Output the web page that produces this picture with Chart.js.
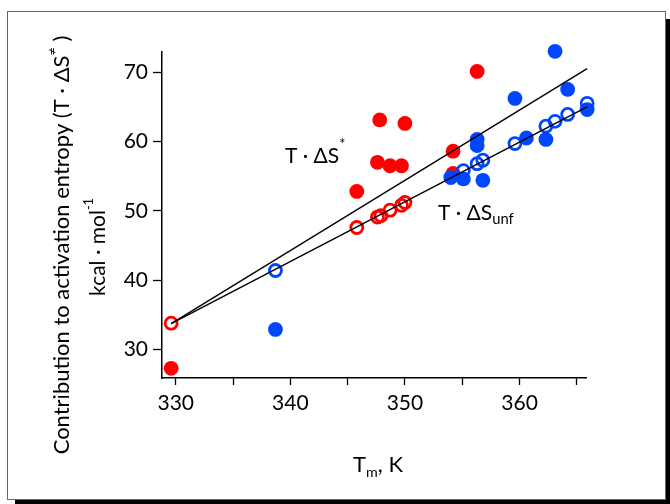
<!DOCTYPE html>
<html>
<head>
<meta charset="utf-8">
<script src="https://cdn.jsdelivr.net/npm/chart.js@4"></script>
<style>
  html, body { margin: 0; padding: 0; background: #fff; width: 670px; height: 504px; overflow: hidden; }
  #frame { position: absolute; left: 7px; top: 11px; width: 657px; height: 487px;
           border: 1px solid #666; box-shadow: 8px 8px 0 #000; background: #fff; }
  #chart { position: absolute; left: 0; top: 0; }
</style>
</head>
<body>
<div id="frame"></div>
<canvas id="chart" width="670" height="504"></canvas>
<script>
// Melting temperature (K) and T·ΔS contributions (kcal·mol⁻¹)
const redActTm   = [329.6, 345.8, 347.6, 347.8, 348.7, 349.7, 350.0, 354.2, 354.2, 356.3];
const redActTS   = [27.3, 52.8, 57.0, 63.1, 56.5, 56.5, 62.6, 58.6, 55.4, 70.1];
const redUnfTm   = [329.6, 345.8, 347.6, 347.9, 348.7, 349.7, 350.0];
const redUnfTS   = [33.8, 47.6, 49.1, 49.3, 50.1, 50.8, 51.2];
const blueActTm  = [338.7, 354.0, 355.1, 356.3, 356.3, 356.8, 359.6, 360.6, 362.3, 363.1, 364.2, 365.9];
const blueActTS  = [32.9, 54.8, 54.6, 60.3, 59.4, 54.4, 66.2, 60.5, 60.3, 73.0, 67.5, 64.6];
const blueUnfTm  = [338.7, 355.1, 356.3, 356.8, 359.6, 362.3, 363.1, 364.2, 365.9];
const blueUnfTS  = [41.4, 55.8, 56.8, 57.3, 59.7, 62.2, 62.9, 63.9, 65.5];

// Linear fits
const fitTm      = [329.6, 365.9];
const fitAct     = [33.75, 70.5];
const fitUnf     = [33.75, 65.0];

const xTicks = [330, 335, 340, 345, 350, 355, 360, 365];
const yTicks = [30, 40, 50, 60, 70];

const RED = '#ff0000';
const BLUE = '#0046ff';
const FONT = 'Lato, "Open Sans", sans-serif';

const pts = (xs, ys) => xs.map((x, i) => ({ x: x, y: ys[i] }));

function filled(data, color, order) {
  return { data, order, clip: false, showLine: false, pointRadius: 7.4, pointHoverRadius: 7.4,
           pointBackgroundColor: color, pointBorderWidth: 0, pointBorderColor: color };
}
function ring(data, color, order) {
  return { data, order, clip: false, showLine: false, pointRadius: 6, pointHoverRadius: 6,
           pointBackgroundColor: 'rgba(0,0,0,0)', pointBorderWidth: 2.8, pointBorderColor: color };
}
function fit(ys) {
  return { data: pts(fitTm, ys), order: 0, clip: false, showLine: true, borderColor: '#000', borderWidth: 1.4,
           pointRadius: 0, fill: false };
}

// draws a run of text pieces (normal / sup / sub) centered on (0,0) of the current transform
function drawRich(ctx, parts, baseSize) {
  let total = 0;
  parts.forEach(p => {
    const s = baseSize * (p.scale || 1);
    ctx.font = s + 'px ' + FONT;
    p._w = ctx.measureText(p.t).width; p._s = s;
    total += p._w;
  });
  let x = -total / 2;
  parts.forEach(p => {
    ctx.font = p._s + 'px ' + FONT;
    ctx.fillText(p.t, x, (p.dy || 0));
    x += p._w;
  });
}
function drawRichLeft(ctx, parts, baseSize, x0, y0) {
  let x = x0;
  parts.forEach(p => {
    const s = baseSize * (p.scale || 1);
    ctx.font = s + 'px ' + FONT;
    ctx.fillText(p.t, x, y0 + (p.dy || 0));
    x += ctx.measureText(p.t).width;
  });
}

const textPlugin = {
  id: 'labels',
  afterDraw(chart) {
    const ctx = chart.ctx;
    ctx.save();
    ctx.fillStyle = '#000';
    ctx.textBaseline = 'alphabetic';
    ctx.textAlign = 'left';

    // y-axis title, two rotated lines
    ctx.save();
    ctx.translate(69, 245);
    ctx.rotate(-Math.PI / 2);
    drawRich(ctx, [
      { t: 'Contribution to activation entropy (T \u00b7 \u0394S' },
      { t: '\u2260', scale: 0.65, dy: -12 },
      { t: ' )' }
    ], 22);
    ctx.restore();

    ctx.save();
    ctx.translate(105, 247);
    ctx.rotate(-Math.PI / 2);
    drawRich(ctx, [
      { t: 'kcal \u00b7 mol' },
      { t: '-1', scale: 0.6, dy: -12 }
    ], 21);
    ctx.restore();

    // x-axis title
    ctx.save();
    ctx.translate(378, 472);
    drawRich(ctx, [
      { t: 'T' },
      { t: 'm', scale: 0.65, dy: 5 },
      { t: ', K' }
    ], 22);
    ctx.restore();

    // series annotations
    drawRichLeft(ctx, [
      { t: 'T \u00b7 \u0394S' },
      { t: '*', scale: 0.7, dy: -14 }
    ], 21, 285, 163);
    drawRichLeft(ctx, [
      { t: 'T \u00b7 \u0394S' },
      { t: 'unf', scale: 0.7, dy: 4 }
    ], 21, 438, 220);

    ctx.restore();
  }
};

new Chart(document.getElementById('chart'), {
  type: 'scatter',
  data: {
    datasets: [
      fit(fitAct),
      fit(fitUnf),
      ring(pts(blueUnfTm, blueUnfTS), BLUE, 1),
      filled(pts(blueActTm, blueActTS), BLUE, 2),
      ring(pts(redUnfTm, redUnfTS), RED, 3),
      filled(pts(redActTm, redActTS), RED, 4)
    ]
  },
  options: {
    responsive: false,
    animation: false,
    events: [],
    layout: { padding: { left: 0, top: 52, right: 84, bottom: 0 } },
    plugins: { legend: { display: false }, tooltip: { enabled: false } },
    scales: {
      x: {
        type: 'linear', position: 'bottom', min: 328.8, max: 365.8,
        afterBuildTicks: s => { s.ticks = xTicks.map(v => ({ value: v })); },
        afterFit: s => { s.height = 126; },
        ticks: { autoSkip: false, maxRotation: 0, color: '#000', padding: 6,
                 font: { family: FONT, size: 21 },
                 callback: v => (v % 10 === 0 ? String(v) : '') },
        grid: { drawOnChartArea: false, drawTicks: true, tickLength: 7, tickColor: '#000', tickWidth: 1.3 },
        border: { display: true, color: '#000', width: 1.5 }
      },
      y: {
        type: 'linear', min: 25.9, max: 72.9,
        afterBuildTicks: s => { s.ticks = yTicks.map(v => ({ value: v })); },
        afterFit: s => { s.width = 162; },
        ticks: { color: '#000', padding: 5, font: { family: FONT, size: 21 } },
        grid: { drawOnChartArea: false, drawTicks: true, tickLength: 9, tickColor: '#000', tickWidth: 1.3 },
        border: { display: true, color: '#000', width: 1.5 }
      }
    }
  },
  plugins: [textPlugin]
});
</script>
</body>
</html>
